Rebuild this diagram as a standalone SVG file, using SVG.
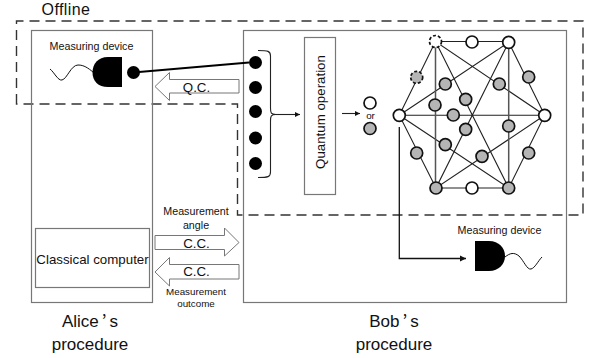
<svg xmlns="http://www.w3.org/2000/svg" width="597" height="358" viewBox="0 0 597 358">
<style>
text{font-family:"Liberation Sans",Arial,sans-serif;fill:#111;text-anchor:middle}
.cjk{font-family:"Noto Sans CJK JP","Liberation Sans",sans-serif}
.box{fill:none;stroke:#777;stroke-width:1.2}
.dash{fill:none;stroke:#333;stroke-width:1.4;stroke-dasharray:10 6}
.e{stroke:#222;stroke-width:1.1;fill:none}
.eg{stroke:#555;stroke-width:1.5;fill:none}
.w{fill:#fff;stroke:#111;stroke-width:1.7}
.g{fill:#b5b5b5;stroke:#111;stroke-width:1.7}
.d{stroke-dasharray:3 2}
.b{fill:#000}
.arr{fill:#fff;stroke:#777;stroke-width:1}
.wave{fill:none;stroke:#111;stroke-width:1}
.s11{font-size:10.7px}.s10{font-size:9.8px}.s13{font-size:13.300px}.s16{font-size:17px}
</style>
<defs><marker id="ah" markerWidth="6" markerHeight="6" refX="5" refY="3" orient="auto"><path d="M0 .6L5 3L0 5.4z" fill="#111"/></marker></defs>

<g id="offline"><path class="dash" d="M16.5 104V21H583V215H237.5V104Z"/><text x="66" y="14.500" style="font-size:16px;letter-spacing:.4px">Offline</text></g>

<g id="alice"><rect class="box" x="31.500" y="30.500" width="121" height="272"/><text x="90" y="327" class="s16">Alice<tspan class="cjk" dx="3">’</tspan><tspan dx="3">s</tspan></text><text x="90" y="350" class="s16">procedure</text></g>
<g id="bob"><rect class="box" x="243.500" y="30.500" width="323" height="272"/><text x="394" y="327" class="s16">Bob<tspan class="cjk" dx="3">’</tspan><tspan dx="3">s</tspan></text><text x="394" y="350" class="s16">procedure</text></g>

<g id="alice-device">
<text x="91.500" y="50" class="s11">Measuring device</text>
<path class="b" d="M122 57H108C98 57 92.500 64 92.500 72.500C92.500 81 98 87 108 87H122Z"/>
<path class="wave" d="M50 69C54 72 58 81 62 80C67 79 71 65 78 65C84 65 88 68 93 72"/>
<circle class="b" cx="133.500" cy="72.500" r="6.500"/>
</g>

<g id="classical-computer"><rect class="box" x="35.500" y="228.500" width="114" height="59"/><text x="92.500" y="264" class="s13">Classical computer</text></g>

<g id="quantum-operation"><rect class="box" x="304.500" y="37.500" width="31" height="157"/><text transform="translate(325 112) rotate(-90)" class="s13">Quantum operation</text></g>

<g id="qubits">
<circle class="b" cx="255.500" cy="62.500" r="6.500"/><circle class="b" cx="255.500" cy="87.500" r="6.500"/><circle class="b" cx="255.500" cy="111.500" r="6.500"/><circle class="b" cx="255.500" cy="138" r="6.500"/><circle class="b" cx="255.500" cy="163.500" r="6.500"/>
<path class="e" d="M258 50.500C268 50.500 270.500 51 270.500 56V108C270.500 113 271 114.500 276 114.500C271 114.500 270.500 116 270.500 121V172C270.500 177 268 177.500 258 177.500"/>
</g>

<g id="legend"><circle class="w" cx="370" cy="103" r="6"/><text x="370.500" y="119" class="s10">or</text><circle class="g" cx="370" cy="128.500" r="6"/></g>

<g id="connectors">
<path stroke="#000" stroke-width="2" fill="none" d="M139 72L249 62.500"/>
<path class="e" marker-end="url(#ah)" d="M276 114.500H300"/>
<path class="e" marker-end="url(#ah)" d="M342 113.500H360"/>
<path stroke="#111" stroke-width="1.300" fill="none" marker-end="url(#ah)" d="M399.300 127V258.500H466"/>
<g id="qc-arrow"><path class="arr" d="M155 86.500L169.500 72.500V79.500H239V93H169.500V100.500Z"/><text x="196.500" y="91.500" class="s13">Q.C.</text></g>
<g id="cc-right"><path class="arr" d="M155 235.500H224.500V228L239 242.500L224.500 256V249.500H155Z"/><text x="196.500" y="247.500" class="s13">C.C.</text></g>
<g id="cc-left"><path class="arr" d="M155 272L169.500 257.500V264.500H239V279H169.500V286Z"/><text x="196.500" y="276" class="s13">C.C.</text></g>
</g>
<g id="cc-labels">
<text x="196" y="215" class="s11">Measurement</text><text x="196" y="229" class="s11">angle</text>
<text x="196" y="295" class="s10">Measurement</text><text x="196" y="307" class="s10">outcome</text>
</g>

<g id="graph-edges">
<path class="e" d="M435.500 41.500H508.700M399.300 115.300L435.500 41.500L544.700 115.300L508.700 188H436L399.300 115.300L508.700 42.300L544.700 115.300H399.300L508.700 188L435.500 41.500M508.700 42.300L436 188L544.700 115.300"/>
<path class="eg" d="M435.500 41.500V188M508.700 42.300V188"/>
</g>
<g id="graph-nodes">
<circle class="w d" cx="435.500" cy="41.500" r="6"/><circle class="w" cx="472" cy="42" r="6"/><circle class="w" cx="508.700" cy="42.300" r="6"/>
<circle class="w" cx="399.300" cy="115.300" r="6"/><circle class="w" cx="544.700" cy="115.300" r="6"/>
<circle class="g" cx="436" cy="188" r="6"/><circle class="w" cx="472" cy="188" r="6"/><circle class="g" cx="508.700" cy="188" r="6"/>
<circle class="g d" cx="416.700" cy="77.300" r="6"/><circle class="g" cx="528.700" cy="77" r="6"/><circle class="g" cx="416.700" cy="153" r="6"/><circle class="g" cx="528.700" cy="153" r="6"/>
<circle class="g" cx="445.300" cy="84" r="6"/><circle class="g" cx="499.300" cy="84" r="6"/><circle class="g" cx="435" cy="105" r="6"/><circle class="g" cx="465.700" cy="99.300" r="6"/><circle class="g" cx="453.300" cy="115" r="6"/><circle class="g" cx="465.700" cy="129.300" r="6"/><circle class="g" cx="508.700" cy="126" r="6"/><circle class="g" cx="445.300" cy="144.700" r="6"/><circle class="g" cx="482" cy="156.300" r="6"/>
</g>

<g id="bob-device">
<text x="499.500" y="234" class="s11">Measuring device</text>
<path class="b" d="M475 241H489C499 241 505 248 505 256C505 264 499 271 489 271H475Z"/>
<path class="wave" d="M505 257C510 253 514 252 519 256C524 261 527 270 531 269C535 268 538 261 542 257"/>
</g>
</svg>
